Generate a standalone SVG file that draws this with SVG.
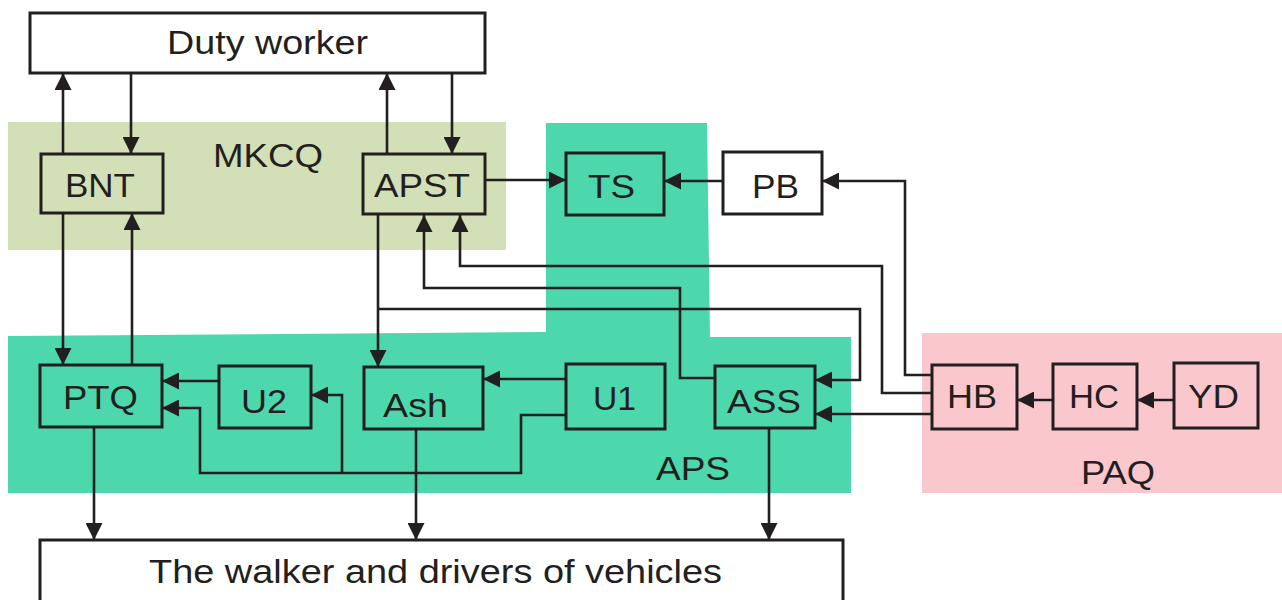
<svg xmlns="http://www.w3.org/2000/svg" width="1282" height="600" viewBox="0 0 1282 600">
<style>
.box{fill:none;stroke:#231f20;stroke-width:3}
.wbox{fill:#ffffff;stroke:#231f20;stroke-width:3}
.t{font-family:"Liberation Sans",Arial,sans-serif;font-size:34px;fill:#231f20}
.c{fill:none;stroke:#231f20;stroke-width:2.6}
.a{marker-end:url(#arr)}
</style>
<defs>
<marker id="arr" viewBox="0 0 16 16" refX="16" refY="8" markerWidth="17" markerHeight="17" markerUnits="userSpaceOnUse" orient="auto">
<path d="M0,0 L16,8 L0,16 z" fill="#231f20"/>
</marker>
</defs>
<rect width="1282" height="600" fill="#ffffff"/>
<g id="bg-mkcq">
<rect x="8" y="122" width="498" height="128" fill="#d3dfb7"/>
<text class="t" x="213" y="167" textLength="110" lengthAdjust="spacingAndGlyphs">MKCQ</text>
</g>
<g id="bg-aps">
<polygon points="546,123 707,123 710,337 851,337 851,493 8,493 8,336 546,332" fill="#4cd7ad"/>
<text class="t" x="656" y="480" textLength="74" lengthAdjust="spacingAndGlyphs">APS</text>
</g>
<g id="bg-paq">
<rect x="922" y="333" width="360" height="160" fill="#f9c7cc"/>
<text class="t" x="1081" y="484" textLength="74" lengthAdjust="spacingAndGlyphs">PAQ</text>
</g>
<g id="connectors">
<path class="c a" d="M63,154 V73"/>
<path class="c a" d="M131,73 V154"/>
<path class="c a" d="M387,154 V73"/>
<path class="c a" d="M452,73 V154"/>
<path class="c a" d="M63,213 V365"/>
<path class="c a" d="M132,365 V213"/>
<path class="c a" d="M486,180 H566"/>
<path class="c a" d="M723,181 H664"/>
<path class="c a" d="M932,375 H905 V181 H822"/>
<path class="c a" d="M932,393 H882 V266 H460 V215"/>
<path class="c a" d="M715,378 H680 V288 H424 V215"/>
<path class="c a" d="M378,215 V367"/>
<path class="c a" d="M378,309 H860 V380 H815"/>
<path class="c a" d="M932,414 H815"/>
<path class="c a" d="M1053,400 H1017"/>
<path class="c a" d="M1174,400 H1137"/>
<path class="c a" d="M219,381 H162"/>
<path class="c a" d="M566,379 H483"/>
<path class="c a" d="M566,415 H521 V473 H200 V408 H162"/>
<path class="c a" d="M342,473 V395 H311"/>
<path class="c a" d="M94,427 V540"/>
<path class="c a" d="M416,429 V540"/>
<path class="c a" d="M769,428 V540"/>
</g>
<g id="duty">
<rect class="wbox" x="30" y="13" width="455" height="60"/>
<text class="t" x="167" y="54" textLength="201" lengthAdjust="spacingAndGlyphs">Duty worker</text>
</g>
<g id="bnt">
<rect class="box" x="41" y="154" width="122" height="59"/>
<text class="t" x="65" y="197" textLength="70" lengthAdjust="spacingAndGlyphs">BNT</text>
</g>
<g id="apst">
<rect class="box" x="363" y="154" width="122" height="60"/>
<text class="t" x="374" y="197" textLength="96" lengthAdjust="spacingAndGlyphs">APST</text>
</g>
<g id="ts">
<rect class="box" x="566" y="153" width="98" height="62"/>
<text class="t" x="588" y="198" textLength="47" lengthAdjust="spacingAndGlyphs">TS</text>
</g>
<g id="pb">
<rect class="wbox" x="723" y="152" width="99" height="62"/>
<text class="t" x="752" y="198" textLength="47" lengthAdjust="spacingAndGlyphs">PB</text>
</g>
<g id="ptq">
<rect class="box" x="40" y="365" width="122" height="62"/>
<text class="t" x="63" y="409" textLength="75" lengthAdjust="spacingAndGlyphs">PTQ</text>
</g>
<g id="u2">
<rect class="box" x="219" y="366" width="92" height="62"/>
<text class="t" x="241" y="413" textLength="46" lengthAdjust="spacingAndGlyphs">U2</text>
</g>
<g id="ash">
<rect class="box" x="364" y="367" width="119" height="62"/>
<text class="t" x="383" y="417" textLength="65" lengthAdjust="spacingAndGlyphs">Ash</text>
</g>
<g id="u1">
<rect class="box" x="566" y="364" width="99" height="65"/>
<text class="t" x="593" y="410" textLength="43" lengthAdjust="spacingAndGlyphs">U1</text>
</g>
<g id="ass">
<rect class="box" x="715" y="366" width="100" height="62"/>
<text class="t" x="727" y="413" textLength="74" lengthAdjust="spacingAndGlyphs">ASS</text>
</g>
<g id="hb">
<rect class="box" x="932" y="365" width="85" height="64"/>
<text class="t" x="947" y="408" textLength="50" lengthAdjust="spacingAndGlyphs">HB</text>
</g>
<g id="hc">
<rect class="box" x="1053" y="364" width="84" height="65"/>
<text class="t" x="1069" y="408" textLength="50" lengthAdjust="spacingAndGlyphs">HC</text>
</g>
<g id="yd">
<rect class="box" x="1174" y="363" width="84" height="65"/>
<text class="t" x="1188" y="408" textLength="51" lengthAdjust="spacingAndGlyphs">YD</text>
</g>
<g id="walker">
<rect class="wbox" x="40" y="540" width="803" height="80"/>
<text class="t" x="149" y="583" textLength="573" lengthAdjust="spacingAndGlyphs">The walker and drivers of vehicles</text>
</g>
</svg>
